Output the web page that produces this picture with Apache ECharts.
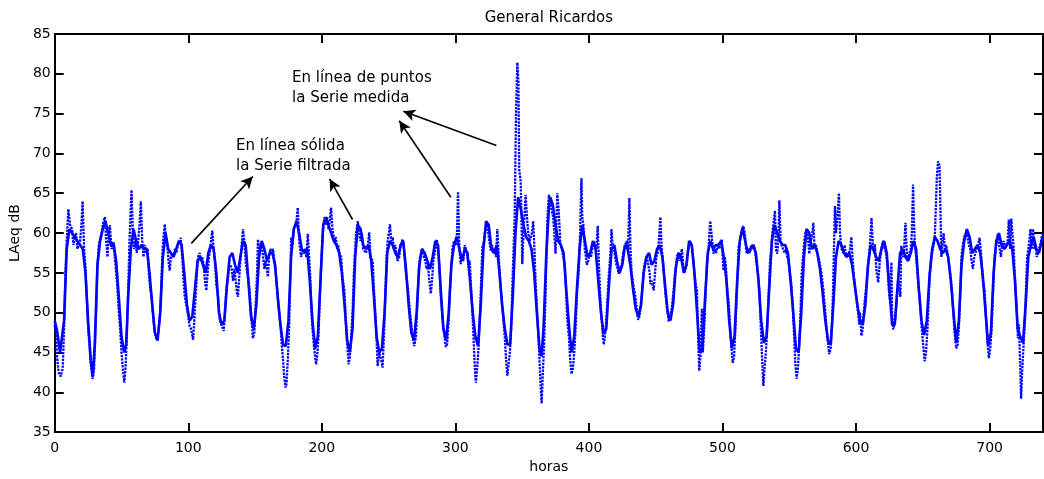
<!DOCTYPE html>
<html>
<head>
<meta charset="utf-8">
<script src="https://cdn.jsdelivr.net/npm/echarts@6/dist/echarts.min.js"></script>
<style>html,body{margin:0;padding:0;background:#fff}#chart{width:1044px;height:479px}</style>
</head>
<body>
<div id="chart"></div>
<script>
// ---- data ----
const chartTitle = 'General Ricardos';
const xName = 'horas';
const yName = 'LAeq dB';
const xRange = [0, 740, 100];   // min, max, interval
const yRange = [35, 85, 5];

// Filtered series (solid line): [hour, LAeq]
const filtered = [[0,49],[2,47.5],[4,45],[5,45],[7,49],[9,58],[11,60.5],[13,60],[15,59.5],[17,59],[19,58.5],[21,58],[23,55],[25,49],[27,44],[28.5,42],[30,46],[32,56],[34,59],[36,60.5],[38,61.5],[40,60],[42,58.5],[44,58.8],[46,56.5],[48,52],[50,47],[52,45],[53.5,46],[55,52],[57,58],[59,60.5],[61,59],[63,58],[65,58.5],[67,58],[69,58],[71,55],[73,51],[75,47.5],[77,46.5],[79,50],[81,57],[83,60],[85,58],[87,57.5],[89,57],[91,58],[93,59],[95,58.5],[97,55],[99,51],[101,49],[103,49.5],[105,53],[107,56.5],[109,57],[111,56],[113,55],[115,57.5],[117,58.5],[119,58],[121,55],[123,50],[125,48.5],[127,49],[129,53.5],[131,57],[133,57.5],[135,56],[137,55],[139,57],[141,59],[143,58.5],[145,54],[147,49.5],[149,48],[151,51],[153,57],[155,59],[157,58],[159,56.5],[161,57.5],[163,57.5],[165,56],[167,52],[169,48.5],[171,46],[173,45.8],[175,49],[177,57],[179,60.5],[181,61.5],[183,60],[185,58],[187,57.5],[189,58],[191,54],[193,49],[195,45.5],[197,47],[199,54],[201,61],[203,62],[205,61],[207,60],[209,59],[211,58.5],[213,57.5],[215,55],[217,51],[219,46.5],[221,45],[223,48],[225,57],[227,61],[229,60.5],[231,58.5],[233,58],[235,58.5],[237,56.5],[239,52],[241,47],[243,45],[245,45.5],[247,50],[249,57.5],[251,59],[253,58.5],[255,57.5],[257,57],[259,58.5],[261,59],[263,55.5],[265,51],[267,47.5],[269,46.5],[271,50],[273,56],[275,58],[277,57.5],[279,56.5],[281,55.5],[283,57],[285,59],[287,58.5],[289,53],[291,48],[293,46.5],[295,50],[297,56],[299,58.5],[301,59.5],[303,58],[305,56.5],[307,58],[309,57.5],[311,54],[313,50],[315,47],[317,45.8],[319,51],[321,58],[323,61.5],[325,61],[327,58],[329,57.5],[331,58.5],[333,55],[335,51],[337,48],[339,46],[341,46],[343,52],[345,60],[347,64.5],[349,63],[351,61],[353,59.5],[355,59],[357,58],[359,55],[361,50],[363,45.5],[364.5,44.5],[366,48],[368,57],[370,63],[371,64.5],[373,63.5],[375,61],[377,59],[379,58.5],[381,57.5],[383,53],[385,48.5],[387,45],[389,47],[391,53],[393,58],[395,61],[397,59],[399,57],[401,57.5],[403,59],[405,58],[407,54],[409,50],[411,47.3],[413,48],[415,53.5],[417,58],[419,58.5],[421,56.5],[423,55],[425,56],[427,58.5],[429,58],[431,56],[433,53],[435,50.5],[437,49.5],[439,51],[441,55],[443,57],[445,57.5],[447,56],[449,56.5],[451,58],[453,58.5],[455,57],[457,53.5],[459,50],[461,49],[463,51],[465,55.5],[467,57.5],[469,57],[471,55],[473,56],[475,59],[477,58.5],[479,55],[481,50],[483,45],[485,45.5],[487,52],[489,57.5],[491,59],[493,58],[495,58.5],[497,58.5],[499,59],[501,57],[503,54],[505,49],[507,45.5],[509,47],[511,54],[513,59],[515,60.7],[517,59],[519,57.5],[521,58],[523,58.5],[525,57.5],[527,54],[529,49],[531,46.2],[533,47],[535,53],[537,59],[539,61],[541,60],[543,59],[545,58.5],[547,58.5],[549,57.5],[551,54],[553,50],[555,45.5],[557,45],[559,50],[561,57],[563,60.5],[565,60],[567,58],[569,58.5],[571,57.5],[573,55.5],[575,52.5],[577,49],[579,46.5],[581,46],[583,51],[585,57],[587,59],[589,58.5],[591,57.5],[593,57],[595,57.5],[597,56],[599,53.5],[601,51],[603,49],[605,48.5],[607,51],[609,56],[611,58.5],[613,58],[615,57],[617,56.5],[619,58],[621,59],[623,57.5],[625,53],[627,48.5],[629,48.5],[631,53],[633,57.5],[635,58],[637,57],[639,56.5],[641,57.5],[643,59],[645,58],[647,53],[649,49],[651,47.2],[653,49],[655,54.5],[657,58],[659,59.5],[661,59],[663,58],[665,57.5],[667,58],[669,57],[671,54],[673,50],[675,46.2],[677,49],[679,56],[681,59],[683,60.5],[685,59.5],[687,57.5],[689,58],[691,58.5],[693,57.5],[695,54.5],[697,50],[699,45.8],[701,47.5],[703,55],[705,59],[707,60],[709,58.5],[711,58],[713,58.5],[715,59],[717,58],[719,54],[721,48],[723,47],[725,46.2],[727,51],[729,57],[731,58.5],[733,59.5],[735,58],[737,57.5],[739,59],[740,59.5]];

// Measured series (dotted line): [hour, LAeq]
const measured = [[0,48.5],[1,47],[2,44],[3,42.5],[4.5,42],[6,43],[7,48],[8,55],[9,59],[10.2,63],[11.5,61],[13,60.5],[14,58.5],[15,59.5],[16,60],[17,58],[18,58.5],[19,59],[20,61],[20.9,64],[22,58],[23,56],[24,52],[25,48],[26,46],[27,43.5],[28.4,41.7],[29.5,43],[31,50],[32,56],[33,58.5],[35,60],[36.5,61.5],[37.6,62],[38.5,59],[39.5,57],[40.5,60],[41.3,61],[42.5,58],[44,58.5],[45,57],[46,55],[47,53],[48,50],[49,48],[50,45],[51,43],[52.1,41.2],[53,43],[54,47],[55,53],[56,59],[57.5,65.4],[58.5,60],[59.5,58],[60.5,59],[61.5,57.5],[62.5,59],[63.5,61],[64.5,64],[65.5,59],[66.5,57],[67.5,58.5],[68.5,57.5],[69.5,58],[70.5,55],[71.5,53],[72.5,52],[73.5,50],[74.5,48],[76.2,46.6],[77.5,47.5],[78.5,49],[79.5,52],[80.5,57],[81.2,59],[82.4,61.1],[83.5,59],[84.5,58],[85.5,56],[86.1,55.3],[87,57],[88,57.5],[89,57],[90,58],[91,57.5],[92.4,58.6],[93.5,59],[94.4,59.4],[95.5,57],[96.5,54],[97.4,52],[98.5,51],[99.5,50],[101,48.3],[102,48],[103.6,46.6],[104.5,49],[105.5,52],[106.5,55],[107.3,57],[108.5,57.5],[109.5,56.5],[110.5,57],[111.5,56],[112.5,54],[113.5,52.8],[114.5,55],[115.5,57],[116.5,58],[117.3,59.4],[118,60.3],[119,58],[120,56.5],[121,53.5],[122.3,52],[123.5,49.1],[124.8,48.5],[126.5,47.7],[127.5,50],[128.5,53],[129.5,54],[130.5,55.5],[131.5,56],[132.5,55.5],[133.5,54],[134.5,55.5],[135.5,54],[136.5,52.5],[137.2,52],[138,54],[139,56.5],[140,58.5],[141,60.5],[142.2,58.6],[143.2,56],[144.2,55],[145.2,54],[145.9,52.8],[147,50],[148.4,46.8],[149.5,47.5],[150.5,51],[151.5,55],[152.2,59.2],[153,57.5],[154,58.5],[155,58.8],[156,57],[157,55.5],[158,56.5],[159.6,54.5],[160.5,57],[161.5,58],[162.5,57.5],[163.5,58],[164.6,57.8],[165.5,55],[166.5,53],[167.1,51.6],[168,50],[169,48.5],[170,46],[171,44],[171.8,42],[172.8,40.6],[173.5,41],[174.5,44],[175.5,48],[176.5,55],[177,59.4],[178,58.5],[179,60.5],[180.8,61.1],[182,63.2],[183,59],[184.5,57],[185.5,58],[186.5,57.5],[187.5,58],[188.5,57],[189.5,59.9],[190.5,57],[191.5,54],[192,50.8],[193,48],[194,46],[195.7,43.5],[196.5,44.5],[197.5,47],[198.5,52],[199.5,56],[200.7,59.9],[201.9,62],[203,61],[204,62],[205,60.5],[206,61.5],[206.9,63.2],[208,60.5],[209.4,59],[210.5,59.5],[211.5,58],[212.2,58.5],[213.2,57.4],[214.5,57],[215.5,54.5],[216.9,52.8],[218,49],[219,46],[220.1,43.5],[221,44.5],[222,47],[223,50],[224,55],[225.6,59.9],[226.9,61.5],[228,60],[229,59],[230,60],[231,58],[231.8,58.2],[233,57.5],[234.5,58.5],[235.5,60.1],[236.5,57],[238.1,56.5],[239,53],[240.5,48.7],[241.8,43.3],[243,45],[244.5,44],[245.5,43.1],[246.5,47],[247.5,52],[248.5,57],[249.3,59],[250.2,60],[251,61.1],[252,59],[253,59.5],[254,58],[255,58.5],[256.7,56.5],[258,57],[259,58.5],[260.5,59.2],[261.5,58],[262.5,56],[263,54.9],[264.5,53],[266,50],[266.7,49.1],[268,47],[269.2,45.8],[270.5,47],[271.5,51],[272.5,55],[273.5,57],[274.2,57.4],[275.4,58],[276.5,57],[277.5,56.5],[278.5,55.5],[279.5,56],[280.5,54],[281.6,52.4],[282.5,54],[283.5,56.5],[284.5,57.5],[285.5,58.5],[286.1,59.2],[287,58],[288,56],[289.1,52],[290.5,49],[291.5,47.5],[292.8,45.7],[293.8,46],[295,49],[296,53],[297,56],[297.8,58.2],[299,59],[300.3,58.5],[301.2,60],[302,65.2],[303,58],[304,56.1],[305,57],[306,56.5],[307,58.5],[307.8,58.6],[308.8,57.5],[309.8,56],[310.8,56.5],[311.8,53],[312.8,50],[313.8,46],[314.6,43],[315.3,41.2],[316.3,43],[317.3,45.5],[318.5,50],[319.5,55],[320.2,58.2],[321.5,59],[322.5,60.5],[323.9,61],[325,59.5],[326.5,57.8],[327.5,58.5],[328.5,57.5],[329.5,58],[330.5,57],[331.4,60.5],[332.5,57],[333.9,53.2],[335,51],[336,49],[337,47],[338,44],[338.9,42.1],[339.8,43.5],[340.8,45],[341.8,48],[342.8,54],[343.8,59],[344.4,62],[345.4,75],[346.4,81.4],[347.2,79],[347.8,68],[348.9,66.5],[349.5,62],[350.1,56.1],[351,60],[352,63],[352.6,64.8],[353.6,62],[354.6,60],[355.6,59],[356.3,59.4],[357.3,60],[358.3,61.5],[359.2,58],[360,54.1],[361,51],[362,47.5],[363,44],[363.8,41],[364.6,38.6],[365.4,42],[366.4,46],[367.5,52],[368.8,61.5],[370,64.8],[370.8,64.3],[372,63],[373.2,62],[374.1,60],[375,57.4],[376.3,65],[377.3,63],[378.7,58.4],[379.7,58],[381,58],[382,56],[383.8,49.1],[385,47],[386,44],[387,42.3],[388,43],[389,45],[390,48],[391.2,52.8],[392.4,55.3],[393.4,60],[394.4,66.9],[395,62],[395.9,61],[396.9,58],[397.4,57.4],[398.5,56],[399.5,56.5],[400.5,57.5],[401.5,57],[402.5,58],[403.6,59],[404.6,59],[405.6,58],[406.6,60.9],[407.5,56],[408.6,51.6],[409.6,49],[410.5,47],[411.1,46],[412,47],[413,49],[414,52],[415,55],[416.1,57.4],[416.9,60.5],[418,58],[418.6,58.4],[419.6,57],[420.6,56],[421.6,55.5],[422.3,54.9],[423.6,54.7],[424.6,56],[425.6,57.5],[426.4,58],[427.3,58.6],[428.4,59],[429.3,58],[430.3,64.4],[431.1,58],[432,55],[433.5,53.2],[434.8,52],[435.8,50.5],[436.8,49.1],[437.8,49.5],[439,51],[440,53],[441,55.3],[442.2,56.5],[443.5,57],[444.5,56],[445.5,55],[446,53.6],[447,54],[448.5,52.8],[449.5,55],[450.5,57],[451.5,57.5],[452.2,58.6],[453.5,62],[454.5,58],[455.5,56.5],[456.3,54.5],[457.2,52.5],[458.5,50.5],[459.7,48.9],[460.9,48.9],[462,50.5],[463.4,52.8],[464.4,55],[465.9,57],[467,57.5],[468,56.5],[469.6,58],[470.6,56],[471.4,55],[472.1,54.9],[473.1,56],[474.1,57.5],[475.1,58.5],[475.9,59],[476.9,58.5],[478,57],[479,55],[480,53.5],[480.9,52.8],[481.6,48],[482.6,42.7],[483.5,44.5],[484.6,50.5],[485.3,45],[486.3,48],[487.3,52],[488.3,56.1],[489.3,57.5],[490.8,61.5],[492.1,61.7],[493.3,57.4],[494.3,58],[495.3,57.5],[496.3,58.5],[497.5,58],[498.5,58.5],[499.5,59.2],[500.7,55.3],[501.7,57],[502.5,56],[503.5,53],[504.5,51.6],[505.5,49],[506.5,46],[507.7,43.7],[508.7,44.5],[509.7,48],[510.7,52],[512,58.2],[513,59],[514,60],[515.7,60.9],[516.7,60],[517.7,58],[518.2,57.4],[519.5,58],[520.5,57.5],[521.5,58.5],[522.5,58],[523.5,58.5],[524.5,57.5],[525.5,57.5],[526.5,55],[527.6,52.8],[528.5,49],[529.5,45],[530.6,40.8],[531.5,43],[532.5,45],[533.5,48],[534.5,52],[535.6,56.5],[536.6,58],[537.3,60],[538.1,61.1],[539.3,62.8],[540,58],[541,57.4],[542,60],[542.6,64.1],[543.5,59],[544.4,58.4],[545.5,58.5],[546.5,57.5],[547.5,58],[548.5,57],[549.5,56.5],[550.5,55],[551.8,53.2],[552.8,50],[553.8,46.5],[554.6,43.5],[555.5,41.7],[556.5,43],[557.5,46],[558.5,50.5],[559.3,54.9],[560.3,57],[561.3,59],[562,60],[563,60.5],[564,59.5],[565,57.4],[566,59],[567,59.5],[568,61.3],[569,58],[570,58.5],[571,57.5],[572,57],[573,56],[574.2,54.9],[575.5,53],[576.5,51],[577.5,49],[578.5,47],[579.9,44.8],[581,45.5],[582,48],[582.9,53.6],[584.2,63.4],[585,60],[586,62],[587.2,65],[588,60],[589.2,58],[590.5,57.5],[591.5,58.5],[592.5,57],[593.5,57.5],[594.1,57],[595.5,58],[596.5,59.5],[597.5,56.5],[598.5,54.5],[599.1,53.6],[600.5,51.5],[601.5,50],[602.5,48.5],[603,50],[604.1,47.1],[605,48],[606,50.5],[607.8,53.6],[609,56],[610.4,58.4],[611.6,61.9],[612.6,58.5],[613.6,57.5],[614.1,58.6],[615.3,55.3],[616.6,53.8],[617.6,56],[618.5,57.5],[619.5,58.5],[620.3,59],[621.5,58],[622.5,57.5],[623.5,56],[624.5,53],[625.3,51.6],[626.5,56.3],[627,50],[627.8,47.9],[628.8,48.5],[629.8,50],[630.5,52],[631.5,54.1],[632.5,53],[633.2,52],[633.9,58.4],[635,57],[636,58],[637,61.3],[638,57.5],[639,56.5],[640,57.5],[641,58],[641.8,60],[642.7,66.1],[643.5,61],[644.1,58.4],[645,57],[646,55],[647.7,51.6],[649,48.5],[650.5,45.5],[651.4,43.9],[652.4,45],[653.5,48],[654.5,52],[655.2,54.9],[656.5,57],[657.5,58],[658.9,59.2],[659.7,63],[660.5,67],[661.4,69],[662.5,68.5],[663.2,63],[663.9,57],[664.8,59],[665.6,60],[666.5,58],[667.5,58.5],[668.5,57.5],[669.5,57.5],[670.5,55],[671.8,52.8],[672.8,50],[673.8,47.5],[675.1,45.5],[676.1,46],[677.1,48.5],[678,52],[678.9,57],[680,58.5],[681,59.5],[682.5,60],[683.4,59.5],[684.5,58.5],[685.5,58],[686.5,56.5],[687.5,55.5],[688.5,57],[689.5,57.5],[690.5,58],[691.5,58.5],[692.5,59.4],[693.8,57],[695,54],[696.3,52.8],[697.3,49.5],[698.3,46.5],[699.5,44.3],[700.5,45.5],[701.5,48],[702.5,52],[703.7,57],[705,58.5],[706.2,59.9],[707.2,58.5],[708.5,57],[709.5,58.5],[710.5,59],[711.5,58],[712.5,58.5],[713.5,59],[714.4,61.7],[715.4,58],[716.2,61.8],[717.3,61.7],[718.1,58],[718.6,55.7],[719.5,53],[720.5,50],[721.2,46.8],[722,48.5],[722.8,44],[723.6,39.2],[724.5,43],[725.5,46],[726.5,49],[727.3,53],[728.1,57],[729,58],[729.8,59],[730.6,60.5],[731.5,58],[732.5,60.5],[733.5,58],[734.5,58.5],[735.3,57],[736.1,57.4],[737,58],[738,58.5],[739,59.5],[740,60]];

// Annotation arrows in data coordinates: [tail, head]
const arrows = [
  [[102.3, 58.7], [148.3, 67.1]],
  [[223.0, 61.7], [205.8, 66.8]],
  [[296.6, 64.5], [258.0, 74.1]],
  [[330.7, 71.0], [261.0, 75.3]]
];
const noteSolid = 'En línea sólida\nla Serie filtrada';
const noteDotted = 'En línea de puntos\nla Serie medida';

// ---- chart ----
const FONT = 'DejaVu Sans';
const chart = echarts.init(document.getElementById('chart'), null, {renderer: 'canvas'});
const axisLine = {show: true, onZero: false, lineStyle: {color: '#000', width: 2}};
const axisTick = {show: true, inside: true, length: 9, lineStyle: {color: '#000', width: 2}};

chart.setOption({
  animation: false,
  backgroundColor: '#fff',
  grid: {left: 53, right: 1, top: 34, bottom: 42, containLabel: false},
  xAxis: [
    {type: 'value', position: 'bottom', min: xRange[0], max: xRange[1], interval: xRange[2],
     axisLine, axisTick, splitLine: {show: false},
     axisLabel: {color: '#000', fontFamily: FONT, fontSize: 14, margin: 9, showMaxLabel: false},
     name: xName, nameLocation: 'middle', nameGap: 27,
     nameTextStyle: {color: '#000', fontFamily: FONT, fontSize: 14}},
    {type: 'value', position: 'top', min: xRange[0], max: xRange[1], interval: xRange[2],
     axisLine, axisTick, splitLine: {show: false}, axisLabel: {show: false},
     name: chartTitle, nameLocation: 'middle', nameGap: 8,
     nameTextStyle: {color: '#000', fontFamily: FONT, fontSize: 15}}
  ],
  yAxis: [
    {type: 'value', position: 'left', min: yRange[0], max: yRange[1], interval: yRange[2],
     axisLine, axisTick, splitLine: {show: false},
     axisLabel: {color: '#000', fontFamily: FONT, fontSize: 14, margin: 4},
     name: yName, nameLocation: 'middle', nameGap: 30,
     nameTextStyle: {color: '#000', fontFamily: FONT, fontSize: 14}},
    {type: 'value', position: 'right', min: yRange[0], max: yRange[1], interval: yRange[2],
     axisLine, axisTick, splitLine: {show: false}, axisLabel: {show: false}}
  ],
  series: [
    {name: 'filtrada', type: 'line', xAxisIndex: 0, yAxisIndex: 0, data: filtered,
     showSymbol: false, symbol: 'none', smooth: false,
     lineStyle: {color: '#0000ff', width: 2.6}, z: 2,
     markLine: {silent: true, symbol: ['none', 'arrow'], symbolSize: [9, 12],
       label: {show: false}, emphasis: {disabled: true},
       lineStyle: {color: '#000', width: 1.6, type: 'solid'},
       data: arrows.map(a => [{coord: a[0]}, {coord: a[1]}])}},
    {name: 'medida', type: 'line', xAxisIndex: 0, yAxisIndex: 0, data: measured,
     showSymbol: false, symbol: 'none', smooth: false,
     lineStyle: {color: '#0000ff', width: 2.3, type: [2.3, 1.1]}, z: 3}
  ],
  graphic: [
    {type: 'text', left: 236, top: 136, z: 10,
     style: {text: noteSolid, font: '15px "DejaVu Sans"', fill: '#000', lineHeight: 20}},
    {type: 'text', left: 292, top: 68, z: 10,
     style: {text: noteDotted, font: '15px "DejaVu Sans"', fill: '#000', lineHeight: 20}}
  ]
});
</script>
</body>
</html>
